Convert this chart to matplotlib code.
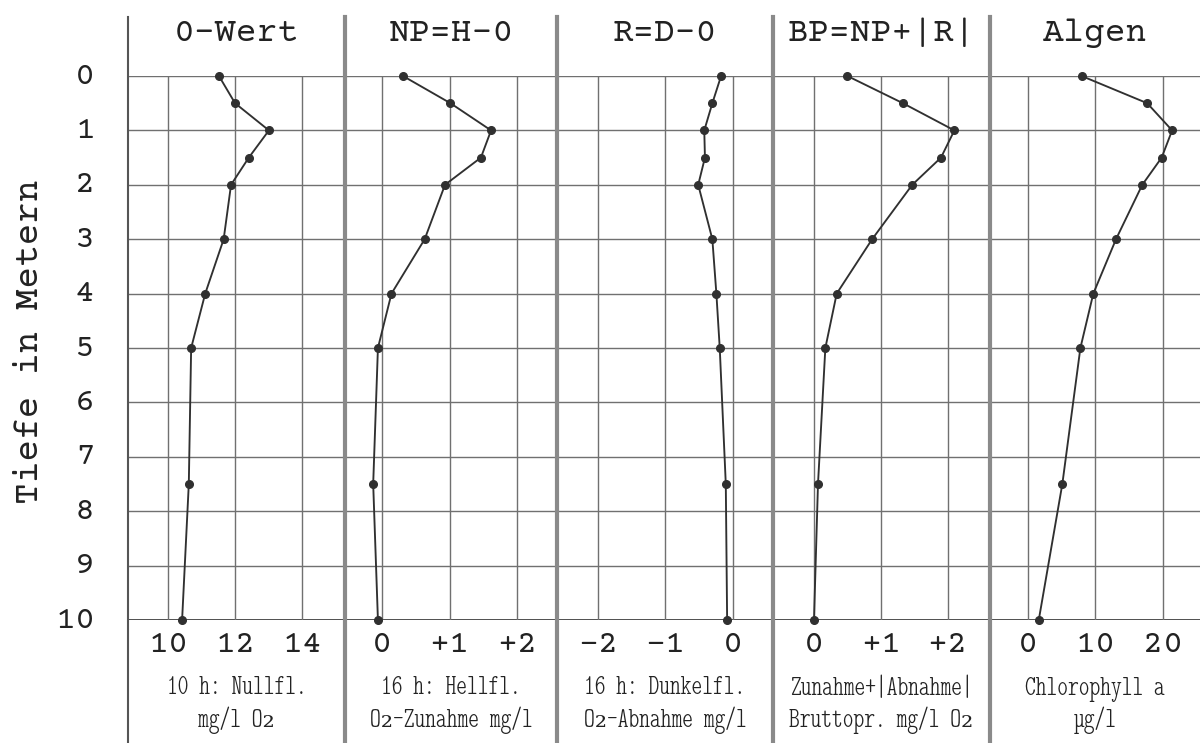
import matplotlib
matplotlib.use("Agg")
import matplotlib.pyplot as plt
from matplotlib.lines import Line2D

# ---------------- data ----------------
depths = [0, 0.5, 1, 1.5, 2, 3, 4, 5, 7.5, 10]
o_wert = [11.52, 12.0, 13.01, 12.41, 11.88, 11.66, 11.11, 10.69, 10.62, 10.42]
np_vals = [0.31, 1.01, 1.61, 1.46, 0.93, 0.63, 0.14, -0.06, -0.13, -0.06]
r_vals = [-0.17, -0.30, -0.42, -0.41, -0.51, -0.30, -0.24, -0.19, -0.10, -0.08]
bp_vals = [0.50, 1.33, 2.10, 1.90, 1.47, 0.87, 0.34, 0.17, 0.06, 0.0]
algen = [7.97, 17.7, 21.4, 19.85, 16.97, 13.07, 9.7, 7.78, 5.1, 1.6]

titles = ["0-Wert", "NP=H-0", "R=D-0", "BP=NP+|R|", "Algen"]
tick_vals = [[10, 12, 14], [0, 1, 2], [-2, -1, 0], [0, 1, 2], [0, 10, 20]]
tick_labels = [["10", "12", "14"], ["0", "+1", "+2"], ["\u22122", "\u22121", "0"],
               ["0", "+1", "+2"], ["0", "10", "20"]]
bottom1 = ["10 h: Nullfl.", "16 h: Hellfl.", "16 h: Dunkelfl.", "Zunahme+|Abnahme|", "Chlorophyll a"]
bottom2 = ["mg/l O\u2082", "O\u2082-Zunahme mg/l", "O\u2082-Abnahme mg/l", "Bruttopr. mg/l O\u2082", "\u00b5g/l"]
depth_ticks = list(range(0, 11))
series = [o_wert, np_vals, r_vals, bp_vals, algen]

# ---------------- layout ----------------
W, H = 1200, 743
fig = plt.figure(figsize=(W / 100, H / 100), dpi=100)
fig.patch.set_facecolor("white")

mono = ["Courier Prime", "Liberation Mono", "DejaVu Sans Mono"]
narrow = ["Latin Modern Mono Light Cond", "DejaVu Serif"]

edges = [128, 345, 557, 773, 990, 1200]
xlims = [(8.806, 15.28), (-0.546, 2.583), (-2.61, 0.602), (-0.613, 2.633), (-5.64, 25.54)]
y_top, y_bot = 76, 620
grid_c = "#707070"
line_c = "#303030"
txt_c = "#222222"

for i in range(5):
    l, r = edges[i], edges[i + 1]
    ax = fig.add_axes([l / W, (H - y_bot) / H, (r - l) / W, (y_bot - y_top) / H])
    ax.set_xlim(*xlims[i])
    ax.set_ylim(10, 0)
    ax.axis("off")
    for d in depth_ticks:
        ax.axhline(d, color=grid_c if d < 10 else "#404040", lw=1.0 if d < 10 else 2.0, zorder=1)
    for v in tick_vals[i]:
        ax.axvline(v, color=grid_c, lw=1.0, zorder=1)
    ax.plot(series[i], depths, color=line_c, lw=1.35, marker="o", ms=5.5, zorder=3, clip_on=False)
    cx = (l + r) / 2 / W
    fig.text(cx, 1 - 33 / H, titles[i], ha="center", va="center", fontsize=25,
             family=mono, color=txt_c)
    for v, t in zip(tick_vals[i], tick_labels[i]):
        ax.text(v, 10.45, t, ha="center", va="center", fontsize=24, family=mono,
                color=txt_c, clip_on=False)
    fig.text(cx, 1 - 689 / H, bottom1[i], ha="center", va="center", fontsize=22,
             family=narrow, color=txt_c)
    fig.text(cx, 1 - 720 / H, bottom2[i], ha="center", va="center", fontsize=22,
             family=narrow, color=txt_c)

# frame / separator lines
fig.add_artist(Line2D([128 / W] * 2, [0, 1 - 17 / H], transform=fig.transFigure,
                      color="#555555", lw=1.5))
for x in edges[1:5]:
    fig.add_artist(Line2D([x / W] * 2, [0, 1 - 17 / H], transform=fig.transFigure,
                          color="#8a8a8a", lw=3.0))

# depth labels
for d in depth_ticks:
    yf = 1 - (y_top + d * (y_bot - y_top) / 10) / H
    fig.text(95 / W, yf, str(d), ha="right", va="center", fontsize=24, family=mono, color=txt_c)
fig.text(30 / W, 1 - 342 / H, "Tiefe in Metern", rotation=90, ha="center", va="center",
         fontsize=26, family=mono, color=txt_c)

fig.savefig("out.png", dpi=100)
